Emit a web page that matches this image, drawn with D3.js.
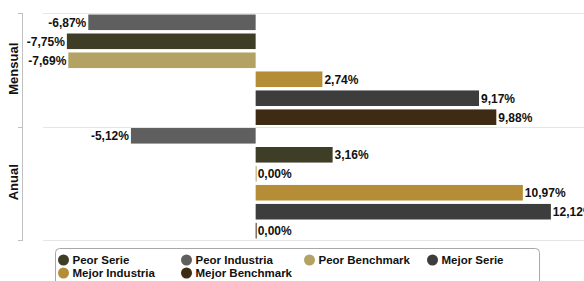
<!DOCTYPE html>
<html>
<head>
<meta charset="utf-8">
<script src="https://cdn.jsdelivr.net/npm/d3@7"></script>
<style>
  body { margin: 0; background: #fff; }
  svg { display: block; font-family: 'Liberation Sans', Arial, sans-serif; }
</style>
</head>
<body>
<svg id="chart" width="584" height="281"></svg>
<script>
// periods on the category axis
const periods = ['Mensual', 'Anual']

// bar order inside each period (top to bottom)
const barOrder = ['Peor Industria', 'Peor Serie', 'Peor Benchmark', 'Mejor Industria', 'Mejor Serie', 'Mejor Benchmark']

// legend order
const legendOrder = ['Peor Serie', 'Peor Industria', 'Peor Benchmark', 'Mejor Serie', 'Mejor Industria', 'Mejor Benchmark']

// values in %, one array per period, following barOrder
const mensual = [-6.87, -7.75, -7.69, 2.74, 9.17, 9.88]
const anual = [-5.12, 3.16, 0.00, 10.97, 12.12, 0.00]

const colors = {
  'Peor Serie': '#3e3d26',
  'Peor Industria': '#5f5f5f',
  'Peor Benchmark': '#b3a263',
  'Mejor Serie': '#3d3d3d',
  'Mejor Industria': '#b58d37',
  'Mejor Benchmark': '#3d2b14'
}

const valuesByPeriod = { Mensual: mensual, Anual: anual }

const svg = d3.select('#chart')
const plot = { left: 43, right: 584, top: 13, bottom: 240 }

const x = d3.scaleLinear()
  .domain([-8.73, 13.48])
  .range([plot.left, plot.right])

const y = d3.scaleBand()
  .domain(periods)
  .range([plot.top, plot.bottom])

const yInner = d3.scaleBand()
  .domain(barOrder)
  .range([0, y.bandwidth()])
  .paddingInner(0.18)
  .paddingOuter(0.08)

// plain hyphen and decimal comma, like the original
const fmt = (v) => (v < 0 ? '-' : '') + Math.abs(v).toFixed(2).replace('.', ',') + '%'

// grid lines at category boundaries
const bounds = periods.map(p => y(p)).concat([plot.bottom])
svg.selectAll('line.grid')
  .data(bounds)
  .join('line')
  .attr('class', 'grid')
  .attr('x1', plot.left)
  .attr('x2', plot.right)
  .attr('y1', d => Math.round(d) + 0.5)
  .attr('y2', d => Math.round(d) + 0.5)
  .attr('stroke', '#e6e6e6')

// category axis line and ticks
svg.append('line')
  .attr('x1', 22.5).attr('x2', 22.5)
  .attr('y1', plot.top).attr('y2', plot.bottom)
  .attr('stroke', '#c0c0c0')

svg.selectAll('line.tick')
  .data(bounds)
  .join('line')
  .attr('class', 'tick')
  .attr('x1', 18).attr('x2', 23)
  .attr('y1', d => Math.round(d) + 0.5)
  .attr('y2', d => Math.round(d) + 0.5)
  .attr('stroke', '#c0c0c0')

svg.selectAll('text.cat')
  .data(periods)
  .join('text')
  .attr('class', 'cat')
  .attr('transform', d => `translate(18, ${y(d) + y.bandwidth() / 2 - 1}) rotate(-90)`)
  .attr('text-anchor', 'middle')
  .attr('font-size', '13px')
  .attr('font-weight', 'bold')
  .attr('fill', '#111')
  .text(d => d)

// bars
const bars = []
periods.forEach(p => {
  valuesByPeriod[p].forEach((v, i) => {
    bars.push({ period: p, series: barOrder[i], value: v })
  })
})

const g = svg.append('g')

g.selectAll('rect')
  .data(bars)
  .join('rect')
  .attr('x', d => Math.min(x(0), x(d.value)))
  .attr('y', d => y(d.period) + yInner(d.series))
  .attr('width', d => Math.max(1, Math.abs(x(d.value) - x(0))))
  .attr('height', yInner.bandwidth())
  .attr('fill', d => colors[d.series])

g.selectAll('text')
  .data(bars)
  .join('text')
  .attr('x', d => d.value < 0 ? x(d.value) - 2 : x(d.value) + 2)
  .attr('y', d => y(d.period) + yInner(d.series) + yInner.bandwidth() / 2)
  .attr('dy', '0.36em')
  .attr('text-anchor', d => d.value < 0 ? 'end' : 'start')
  .attr('font-size', '12px')
  .attr('font-weight', 'bold')
  .attr('fill', '#111')
  .text(d => fmt(d.value))

// legend
const legend = svg.append('g')
legend.append('rect')
  .attr('x', 55.5).attr('y', 248.5)
  .attr('width', 484).attr('height', 45)
  .attr('rx', 4)
  .attr('fill', '#fff')
  .attr('stroke', '#a8a8a8')

const item = legend.selectAll('g.item')
  .data(legendOrder)
  .join('g')
  .attr('class', 'item')
  .attr('transform', (d, i) => `translate(${63.5 + (i % 4) * 123}, ${260 + Math.floor(i / 4) * 13})`)

item.append('circle')
  .attr('r', 5.5)
  .attr('fill', d => colors[d])

item.append('text')
  .attr('x', 9)
  .attr('dy', '0.36em')
  .attr('font-size', '11.5px')
  .attr('font-weight', 'bold')
  .attr('fill', '#111')
  .text(d => d)
</script>
</body>
</html>
